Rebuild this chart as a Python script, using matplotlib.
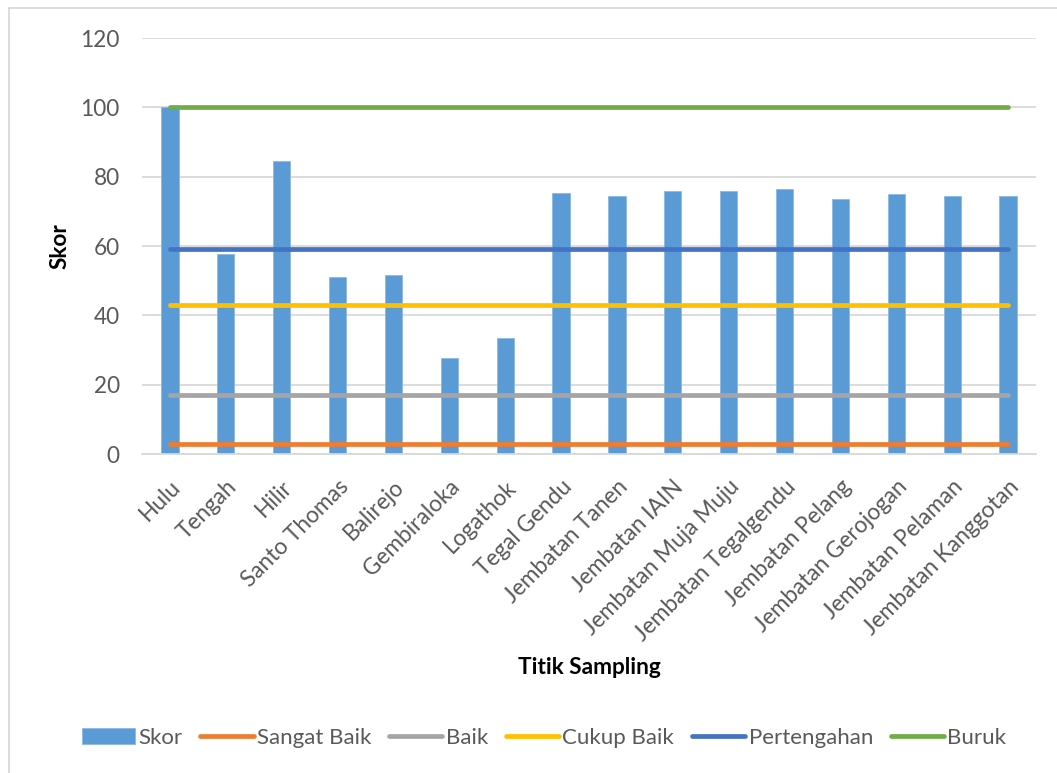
import numpy as np
import matplotlib
matplotlib.use("Agg")
import matplotlib.pyplot as plt
from matplotlib.lines import Line2D

plt.rcParams['font.family'] = ['Lato', 'DejaVu Sans']

# sampling points along the river and their scores
titik = ["Hulu", "Tengah", "Hilir", "Santo Thomas", "Balirejo", "Gembiraloka",
         "Logathok", "Tegal Gendu", "Jembatan Tanen", "Jembatan IAIN",
         "Jembatan Muja Muju", "Jembatan Tegalgendu", "Jembatan Pelang",
         "Jembatan Gerojogan", "Jembatan Pelaman", "Jembatan Kanggotan"]
skor = [100, 57.8, 84.6, 51.0, 51.5, 27.6, 33.6, 75.2, 74.4, 76.0,
        76.0, 76.3, 73.6, 75.0, 74.4, 74.4]

# class boundaries drawn as flat reference lines
kelas = ["Sangat Baik", "Baik", "Cukup Baik", "Pertengahan", "Buruk"]
batas = [3, 17, 43, 59, 100]
warna = ["#ED7D31", "#A5A5A5", "#FFC000", "#4472C4", "#70AD47"]

W, H = 1057, 773
fig = plt.figure(figsize=(W / 100, H / 100), dpi=100)
ax = fig.add_axes([142 / W, 1 - 454 / H, (1036 - 142) / W, (454 - 38) / H])

fs = 16.3
x = np.arange(len(titik))
ax.bar(x, skor, width=0.31, color="#5B9BD5", edgecolor="#8DB8E2",
       linewidth=0.6, zorder=2, label="Skor")
for nama, nilai, c in zip(kelas, batas, warna):
    ax.plot(x, np.full(len(x), nilai), color=c, lw=3.4,
            solid_capstyle="round", zorder=3, label=nama)

ax.set_xlim(-0.5, len(titik) - 0.5)
ax.set_ylim(0, 120)
ax.set_yticks(range(0, 121, 20))
ax.yaxis.grid(True, color="#D9D9D9", lw=1.3, zorder=0)
ax.set_axisbelow(True)
for s in ["top", "right", "left"]:
    ax.spines[s].set_visible(False)
ax.spines["bottom"].set_color("#D9D9D9")
ax.spines["bottom"].set_linewidth(1.3)
ax.tick_params(axis="both", length=0, labelsize=fs, colors="#595959")
ax.tick_params(axis="y", pad=16)
ax.tick_params(axis="x", pad=16)
ax.set_xticks(x)
ax.set_xticklabels(titik, rotation=45, ha="right", rotation_mode="anchor")

fig.text(60 / W, 1 - 246 / H, "Skor", rotation=90, ha="center", va="center",
         fontsize=fs, fontweight="bold", color="black")
fig.text(589 / W, 1 - 667 / H, "Titik Sampling", ha="center", va="center",
         fontsize=fs, fontweight="bold", color="black")

handles, labels = ax.get_legend_handles_labels()
order = [len(handles) - 1] + list(range(len(handles) - 1))
leg = fig.legend([handles[i] for i in order], [labels[i] for i in order],
                 loc="center", bbox_to_anchor=(544 / W, 1 - 738 / H), ncol=6,
                 frameon=False, fontsize=16.0, handlelength=2.4,
                 handletextpad=0.15, columnspacing=0.8, borderaxespad=0)
for t in leg.get_texts():
    t.set_color("#595959")

# chart area border (left and top edges)
fig.add_artist(Line2D([9 / W, 9 / W], [0, 1 - 8 / H], color="#D9D9D9", lw=1.3))
fig.add_artist(Line2D([9 / W, 1], [1 - 8 / H, 1 - 8 / H], color="#D9D9D9", lw=1.3))

fig.savefig("out.png", dpi=100)
